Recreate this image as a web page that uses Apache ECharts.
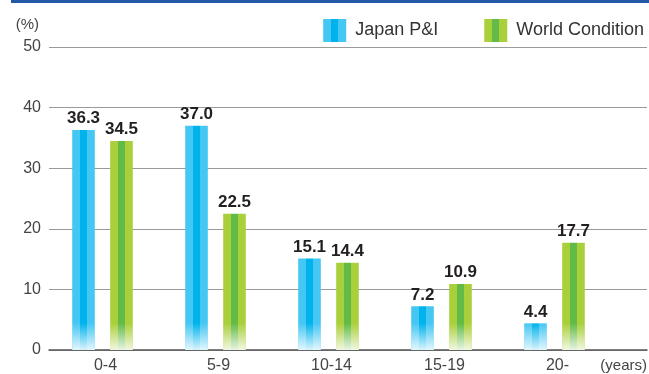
<!DOCTYPE html>
<html>
<head>
<meta charset="utf-8">
<script src="https://cdn.jsdelivr.net/npm/echarts@6/dist/echarts.min.js"></script>
<style>
  html, body { margin: 0; padding: 0; background: #fff; }
  #chart { width: 649px; height: 374px; }
</style>
</head>
<body>
<div id="chart"></div>
<script>
// Age bands of the fleet (years) and share of ships in each band (%)
const categories = ['0-4', '5-9', '10-14', '15-19', '20-'];
const japanPI = [36.3, 37.0, 15.1, 7.2, 4.4];
const worldCondition = [34.5, 22.5, 14.4, 10.9, 17.7];
const seriesNames = ['Japan P&I', 'World Condition'];

// Striped fill: light outer thirds, darker centre third
function stripes(light, dark) {
  return new echarts.graphic.LinearGradient(0, 0, 1, 0, [
    { offset: 0, color: light }, { offset: 0.34, color: light },
    { offset: 0.34, color: dark }, { offset: 0.66, color: dark },
    { offset: 0.66, color: light }, { offset: 1, color: light }
  ]);
}
const palette = [
  stripes('#45c7f3', '#00b3ec'),
  stripes('#a9cf3b', '#62bb47')
];

const BAR_WIDTH = 0.2;     // share of a category band
const BAR_SHIFT = [-0.168, 0.168];
const FADE_PX = 27;        // height of the pale foot of every bar

function renderBar(params, api) {
  const idx = api.value(0);
  const val = api.value(1);
  const base = api.coord([idx, 0]);
  const top = api.coord([idx, val]);
  const band = api.size([1, 0])[0];
  const w = band * BAR_WIDTH;
  const cx = base[0] + band * BAR_SHIFT[params.seriesIndex];
  const h = base[1] - top[1];
  const fadeH = Math.min(FADE_PX, h);
  return {
    type: 'group',
    children: [
      {
        type: 'rect',
        shape: { x: cx - w / 2, y: top[1], width: w, height: h },
        style: { fill: palette[params.seriesIndex] }
      },
      {
        type: 'rect',
        shape: { x: cx - w / 2, y: base[1] - fadeH, width: w, height: fadeH },
        style: {
          fill: new echarts.graphic.LinearGradient(0, 0, 0, 1, [
            { offset: 0, color: 'rgba(255,255,255,0)' },
            { offset: 1, color: 'rgba(255,255,255,0.85)' }
          ])
        }
      },
      {
        type: 'text',
        style: {
          text: val.toFixed(1),
          x: cx, y: top[1] - 3,
          align: 'center', verticalAlign: 'bottom',
          fill: '#231f20',
          font: 'bold 17px "Liberation Sans", Arial, sans-serif'
        }
      }
    ]
  };
}

const chart = echarts.init(document.getElementById('chart'), null, { renderer: 'canvas' });
const FONT = '"Liberation Sans", Arial, sans-serif';

chart.setOption({
  animation: false,
  backgroundColor: '#fff',
  textStyle: { fontFamily: FONT },
  graphic: [
    { type: 'rect', shape: { x: 11, y: 0, width: 638, height: 3 }, style: { fill: '#2358a6' } },
    { type: 'text', style: { text: '(%)', x: 39, y: 25, align: 'right', verticalAlign: 'middle', fill: '#444', font: '15px ' + FONT } },
    { type: 'text', style: { text: '(years)', x: 647, y: 366, align: 'right', verticalAlign: 'middle', fill: '#444', font: '15px ' + FONT } }
  ],
  legend: {
    data: seriesNames,
    right: 0,
    top: 14,
    icon: 'rect',
    itemWidth: 23,
    itemHeight: 23,
    itemGap: 46,
    textStyle: { fontSize: 18, color: '#333', fontFamily: FONT, padding: [0, 0, 0, 4] }
  },
  grid: [
    // full-width frame for the value gridlines and the baseline
    { left: 49, right: 2, top: 47, bottom: 24 },
    // category band holding the bars
    { left: 46, right: 38, top: 47, bottom: 24 }
  ],
  xAxis: [
    {
      gridIndex: 0, type: 'value', min: 0, max: 1,
      axisLine: { show: true, onZero: false, lineStyle: { color: '#555', width: 1.5 } },
      axisTick: { show: false }, axisLabel: { show: false }, splitLine: { show: false }
    },
    {
      gridIndex: 1, type: 'category', data: categories,
      axisLine: { show: false }, axisTick: { show: false },
      axisLabel: { margin: 8, fontSize: 16, color: '#444', fontFamily: FONT, padding: [0, 0, 0, 6] }
    }
  ],
  yAxis: [
    {
      gridIndex: 0, type: 'value', min: 0, max: 50, interval: 10,
      axisLine: { show: false }, axisTick: { show: false },
      axisLabel: { margin: 8, fontSize: 16, color: '#444', fontFamily: FONT },
      splitLine: { lineStyle: { color: '#9a9a9a', width: 1 } }
    },
    { gridIndex: 1, type: 'value', min: 0, max: 50, show: false }
  ],
  series: [
    {
      name: seriesNames[0], type: 'custom', xAxisIndex: 1, yAxisIndex: 1,
      itemStyle: { color: palette[0] },
      renderItem: renderBar,
      data: japanPI.map((v, i) => [i, v])
    },
    {
      name: seriesNames[1], type: 'custom', xAxisIndex: 1, yAxisIndex: 1,
      itemStyle: { color: palette[1] },
      renderItem: renderBar,
      data: worldCondition.map((v, i) => [i, v])
    }
  ]
});
</script>
</body>
</html>
